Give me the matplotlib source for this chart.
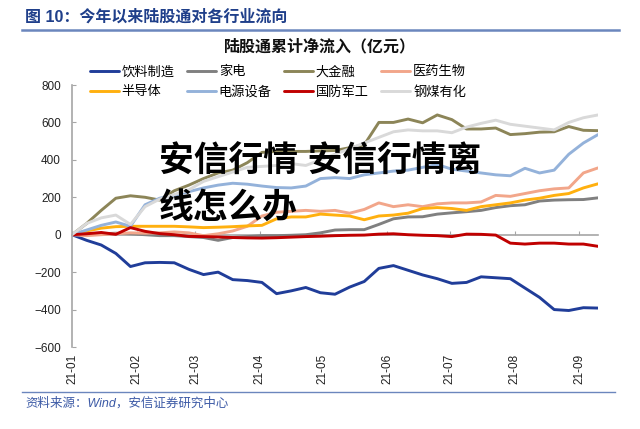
import matplotlib
matplotlib.use('Agg')
import matplotlib.pyplot as plt
import matplotlib.dates as mdates
import numpy as np
import pandas as pd

plt.rcParams['font.family'] = ['Liberation Sans', 'Noto Sans CJK SC', 'DejaVu Sans']

# weekly points, 2021-01-01 .. 2021-09-10
dates = pd.date_range('2021-01-01', periods=37, freq='7D')

names = ['饮料制造', '家电', '大金融', '医药生物',
         '半导体', '电源设备', '国防军工', '钢煤有化']
colors = ['#203d99', '#808080', '#8c8558', '#f2a68a',
          '#ffb00f', '#94b2da', '#c00000', '#d9d9d9']

yinliao = [0, -30, -55, -100, -170, -150, -148, -150, -185, -213, -200, -240,
           -245, -255, -315, -300, -282, -310, -318, -280, -250, -180, -165,
           -190, -215, -235, -260, -255, -225, -230, -235, -285, -335, -400,
           -405, -390, -392]
jiadian = [0, 5, 5, 8, 5, 0, -5, -5, -10, -15, -30, -15, -10, -5, -5, -3, 0,
           10, 25, 27, 27, 55, 85, 95, 96, 110, 117, 123, 130, 145, 155, 160,
           180, 185, 187, 188, 197]
dajinrong = [0, 60, 130, 195, 208, 200, 185, 235, 265, 300, 330, 345, 385,
             440, 445, 445, 445, 448, 450, 465, 480, 600, 600, 618, 598, 640,
             615, 565, 565, 570, 535, 540, 548, 550, 578, 558, 556]
yiyao = [0, -5, 0, 5, 10, 8, 10, 15, 10, -5, 5, 20, 45, 100, 120, 125, 130,
         125, 130, 115, 135, 170, 150, 160, 150, 165, 170, 170, 175, 210, 205,
         220, 235, 245, 250, 330, 357]
bandaoti = [0, 20, 35, 43, 45, 45, 45, 45, 42, 38, 40, 43, 47, 50, 85, 95, 95,
            110, 105, 100, 80, 100, 105, 115, 140, 145, 140, 130, 150, 160, 170,
            185, 195, 210, 220, 250, 272]
dianyuan = [0, 25, 50, 68, 45, 160, 195, 210, 230, 250, 265, 275, 270, 260,
            252, 250, 260, 300, 305, 300, 320, 330, 340, 345, 360, 375, 350,
            340, 330, 320, 315, 355, 330, 345, 430, 490, 535]
guofang = [0, 5, 12, 2, 38, 18, 6, 0, -9, -10, -12, -15, -17, -18, -16, -13,
           -10, -8, -5, -3, -2, 3, 5, 0, -3, -5, -10, 3, 2, -2, -45, -50, -45,
           -45, -50, -50, -62]
gangmei = [0, 60, 90, 105, 55, 150, 190, 215, 240, 285, 310, 335, 360, 365,
           370, 380, 370, 400, 430, 460, 490, 520, 550, 560, 555, 555, 545, 575,
           595, 612, 590, 580, 570, 560, 600, 625, 640]

series = [yinliao, jiadian, dajinrong, yiyao, bandaoti, dianyuan, guofang, gangmei]
yticks = [-600, -400, -200, 0, 200, 400, 600, 800]

fig = plt.figure(figsize=(6.4, 4.29), dpi=100)
ax = fig.add_axes([72 / 640, 1 - 347 / 429, (598 - 72) / 640, (347 - 85) / 429])

handles = []
for name, vals, c in zip(names, series, colors):
    h, = ax.plot(dates, vals, color=c, linewidth=2.1, label=name,
                 solid_joinstyle='round', solid_capstyle='round')
    handles.append(h)

ax.set_ylim(-600, 800)
ax.set_yticks(yticks)
ax.set_xlim(dates[0], dates[-1])
ax.xaxis.set_major_locator(mdates.MonthLocator())
ax.xaxis.set_major_formatter(mdates.DateFormatter('%y-%m'))

for s in ['top', 'right', 'bottom']:
    ax.spines[s].set_visible(False)
ax.spines['left'].set_color('#a6a6a6')
ax.spines['left'].set_linewidth(1.2)
ax.tick_params(axis='y', direction='in', length=3, color='#a6a6a6',
               labelsize=8.5, pad=8, labelcolor='#222222')
ax.tick_params(axis='x', length=0, labelsize=8.5, pad=5,
               labelrotation=90, labelcolor='#222222')

# zero line carrying the month ticks
secax = ax.secondary_xaxis(600 / 1400)
secax.xaxis.set_major_locator(mdates.MonthLocator())
secax.tick_params(direction='in', length=3, color='#a6a6a6', labelbottom=False)
secax.spines['bottom'].set_color('#a6a6a6')
secax.spines['bottom'].set_linewidth(1.2)

# legend reads row by row: reorder for matplotlib's column filling
order = [0, 4, 1, 5, 2, 6, 3, 7]
fig.legend([handles[i] for i in order], [names[i] for i in order],
           loc='center', bbox_to_anchor=(278 / 640, 1 - 82.5 / 429), ncol=4,
           frameon=False, fontsize=9.5, handlelength=2.2, handletextpad=0.2,
           columnspacing=0.95, labelspacing=0.6, borderpad=0)

# header, title, footer
fig.text(25 / 640, 1 - 17 / 429, '图 10：今年以来陆股通对各行业流向', fontsize=11.5,
         fontweight='bold', color='#1f3f8a', va='center', ha='left')
fig.add_artist(plt.Line2D([22 / 640, 619 / 640], [1 - 30 / 429, 1 - 30 / 429],
                          color='#6b86bd', linewidth=1.8))
fig.text(320 / 640, 1 - 47 / 429, '陆股通累计净流入（亿元）', fontsize=11.5,
         fontweight='bold', color='#111111', va='center', ha='center')
fig.add_artist(plt.Line2D([22 / 640, 615 / 640], [1 - 392 / 429, 1 - 392 / 429],
                          color='#6b86bd', linewidth=1.0))
fig.text(25 / 640, 1 - 403 / 429, '资料来源：Wind，安信证券研究中心', fontsize=9,
         color='#3c5aa6', va='center', ha='left', style='italic')

# overlay caption
fig.text(159 / 640, 1 - 162 / 429, '安信行情 安信行情离', fontsize=25,
         fontweight='black', color='black', va='center', ha='left')
fig.text(159 / 640, 1 - 208 / 429, '线怎么办', fontsize=25,
         fontweight='black', color='black', va='center', ha='left')

fig.savefig('out.png', dpi=100)
